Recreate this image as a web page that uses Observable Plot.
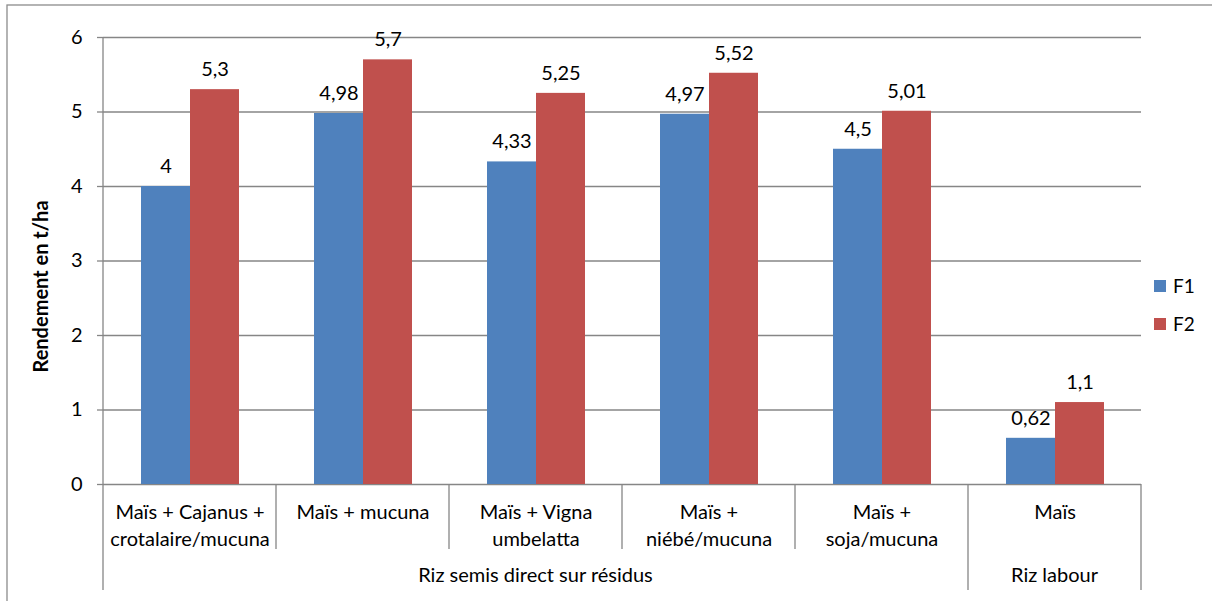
<!DOCTYPE html>
<html>
<head>
<meta charset="utf-8">
<script src="https://cdn.jsdelivr.net/npm/d3@7"></script>
<script src="https://cdn.jsdelivr.net/npm/@observablehq/plot@0.6"></script>
<style>
  html, body { margin: 0; padding: 0; background: #fff; }
  #wrap { position: relative; width: 1212px; height: 601px; overflow: hidden; font-family: Lato, "Open Sans", sans-serif; }
  .legend { position: absolute; left: 1154px; font-size: 19px; color: #000; display: flex; align-items: center; line-height: 24px; }
  .legend span.sw { display: inline-block; width: 12px; height: 12px; margin-right: 7px; }
</style>
</head>
<body>
<div id="wrap"></div>
<script>
const categories = ["Maïs + Cajanus +\ncrotalaire/mucuna", "Maïs + mucuna", "Maïs + Vigna\numbelatta", "Maïs +\nniébé/mucuna", "Maïs +\nsoja/mucuna", "Maïs"];
const groups = ["Riz semis direct sur résidus", "Riz labour"];
const groupOf = [0, 0, 0, 0, 0, 1];
const series = ["F1", "F2"];
const f1 = [4, 4.98, 4.33, 4.97, 4.5, 0.62];
const f2 = [5.3, 5.7, 5.25, 5.52, 5.01, 1.1];
const yTicks = [0, 1, 2, 3, 4, 5, 6];
const colors = ["#4F81BD", "#C0504D"];
const yTitle = "Rendement en t/ha";

const data = [];
categories.forEach((c, i) => {
  data.push({cat: c, series: "F1", value: f1[i]});
  data.push({cat: c, series: "F2", value: f2[i]});
});
const fmt = v => String(v).replace(".", ",");

const chart = Plot.plot({
  width: 1212, height: 601,
  marginLeft: 102, marginRight: 70, marginTop: 37, marginBottom: 117,
  style: {fontFamily: "Lato, 'Open Sans', sans-serif", fontSize: "20px", color: "#000", background: "transparent"},
  fx: {domain: categories, padding: 0, axis: null, label: null},
  x: {domain: series, paddingInner: 0, paddingOuter: 0.75, axis: null},
  y: {domain: [0, 6], axis: null},
  color: {domain: series, range: colors},
  marks: [
    Plot.gridY(yTicks, {stroke: "#868686", strokeOpacity: 1, strokeWidth: 1.3}),
    Plot.barY(data, {fx: "cat", x: "series", y: "value", fill: "series"}),
    Plot.text(data, {fx: "cat", x: "series", y: "value", text: d => fmt(d.value), dy: -20, fill: "#000"}),
    Plot.text(categories, {fx: d => d, text: d => d, frameAnchor: "bottom", lineAnchor: "top", dy: 15, lineHeight: 1.35, fill: "#000"}),
    Plot.axisY({ticks: yTicks, tickSize: 6, tickPadding: 15, stroke: "#868686", strokeWidth: 1.3, label: null, tickFormat: d => fmt(d), fill: "#000"})
  ]
});

const svg = d3.select(chart);
const fx = chart.scale("fx");
const y = chart.scale("y");
const y0 = y.apply(0), yTop = y.apply(6);
const edge = i => i < categories.length ? fx.apply(categories[i]) : fx.apply(categories[categories.length - 1]) + fx.bandwidth;
const g = svg.append("g").attr("stroke", "#868686").attr("stroke-width", 1.3);
// value axis line
g.append("line").attr("x1", edge(0)).attr("x2", edge(0)).attr("y1", yTop).attr("y2", y0);
// category separators
for (let i = 0; i <= categories.length; i++) {
  const long = i === 0 || i === categories.length || groupOf[i] !== groupOf[i - 1];
  g.append("line").attr("x1", edge(i)).attr("x2", edge(i)).attr("y1", y0).attr("y2", y0 + (long ? 106 : 65));
}
// group labels
groups.forEach((name, gi) => {
  const idx = groupOf.map((v, i) => v === gi ? i : -1).filter(i => i >= 0);
  const x0 = edge(idx[0]), x1 = edge(idx[idx.length - 1] + 1);
  svg.append("text").attr("x", (x0 + x1) / 2).attr("y", y0 + 93).attr("text-anchor", "middle")
    .attr("dominant-baseline", "middle").attr("fill", "#000").text(name);
});
// axis title
svg.append("text").attr("transform", `translate(43,${(yTop + y0) / 2 + 26}) rotate(-90)`)
  .attr("text-anchor", "middle").attr("dominant-baseline", "middle")
  .attr("font-weight", "bold").attr("fill", "#000").text(yTitle);
// chart border
svg.append("rect").attr("x", 7).attr("y", 5).attr("width", 1400).attr("height", 800)
  .attr("fill", "none").attr("stroke", "#8c8c8c").attr("stroke-width", 1.3);

const wrap = document.getElementById("wrap");
wrap.appendChild(chart);
series.forEach((s, i) => {
  const d = document.createElement("div");
  d.className = "legend";
  d.style.top = (i === 0 ? 274 : 312) + "px";
  d.innerHTML = `<span class="sw" style="background:${colors[i]}"></span>${s}`;
  wrap.appendChild(d);
});
</script>
</body>
</html>
